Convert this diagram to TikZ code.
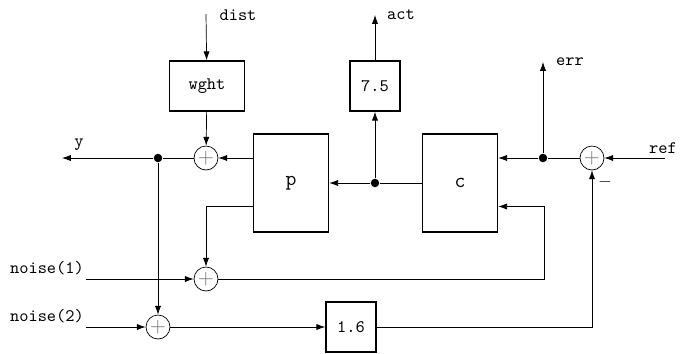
\documentclass[tikz,border=0pt]{standalone}
\usepackage{xcolor}
\usepackage{tikz}
\usetikzlibrary{arrows.meta, positioning, calc}
\definecolor{plusgray}{RGB}{110, 110, 110}

\begin{document}
\begin{tikzpicture}[
    x=0.02cm, y=-0.02cm,
    font=\ttfamily,
    block/.style={rectangle, draw, line width=0.9pt, inner sep=0pt, minimum width=1.5cm, minimum height=1.96cm, font=\ttfamily\large},
    gain/.style={rectangle, draw, line width=0.9pt, inner sep=0pt, minimum width=1.0cm, minimum height=1.0cm},
    sum/.style={circle, draw, thin, inner sep=0pt, minimum size=0.48cm, text=plusgray, font=\large},
    dot/.style={circle, fill=black, inner sep=0pt, minimum size=0.17cm},
    lbl/.style={inner sep=0pt},
    arrow/.style={-{Latex[length=5pt,width=3.5pt]}, thin}
]
    \useasboundingbox (0,0) rectangle (681,353);

    % Blocks
    \node[block] (p) at (291,183) {p};
    \node[block] (c) at (460,183) {c};
    \node[gain, minimum width=1.5cm] (wght) at (207,86) {wght};
    \node[gain] (g75) at (375,86) {7.5};
    \node[gain] (g16) at (351,327) {1.6};

    % Summing junctions
    \node[sum] (sy) at (206,158) {$+$};
    \node[sum] (s1) at (206,279) {$+$};
    \node[sum] (s2) at (158,327) {$+$};
    \node[sum] (sr) at (592,158) {$+$};

    % Branch points
    \node[dot] (ydot) at (158,158) {};
    \node[dot] (pdot) at (375,183) {};
    \node[dot] (edot) at (543,158) {};

    % Ends
    \coordinate (dist) at (206,14);
    \coordinate (act) at (375,15);
    \coordinate (err) at (543,62);
    \coordinate (ref) at (665,158);
    \coordinate (yout) at (62,158);
    \coordinate (n1) at (86,279);
    \coordinate (n2) at (86,327);
    \coordinate (fb) at (544,279);

    % Labels
    \node[lbl] (distlbl) at (238,15) {dist};
    \node[lbl] (actlbl) at (401,15) {act};
    \node[lbl] (errlbl) at (570,62) {err};
    \node[lbl] (reflbl) at (663,148) {ref};
    \node[lbl] (ylbl) at (79,145) {y};
    \node[lbl] (n1lbl) at (47,268) {noise(1)};
    \node[lbl] (n2lbl) at (47,316) {noise(2)};
    \node[lbl] (minus) at (605,182) {$-$};

    % Arrows
    \draw[arrow] (dist) -- (wght);
    \draw[arrow] (wght) -- (sy);
    \draw[arrow] (p.west |- sy) -- (sy);
    \draw[arrow] (sy) -- (ydot) -- (yout);
    \draw[arrow] (ydot) -- (s2);
    \draw[arrow] ([yshift=-0.47cm]p.west) -| (s1);
    \draw[arrow] (n1) -- (s1);
    \draw[arrow] (s1) -- (fb) |- ([yshift=-0.47cm]c.east);
    \draw[arrow] (n2) -- (s2);
    \draw[arrow] (s2) -- (g16);
    \draw[arrow] (g16) -| (sr);
    \draw[arrow] (ref) -- (sr);
    \draw[arrow] (sr) -- (edot) -- (c.east |- sr);
    \draw[arrow] (edot) -- (err);
    \draw[arrow] (c) -- (pdot) -- (p);
    \draw[arrow] (pdot) -- (g75);
    \draw[arrow] (g75) -- (act);
\end{tikzpicture}
\end{document}
